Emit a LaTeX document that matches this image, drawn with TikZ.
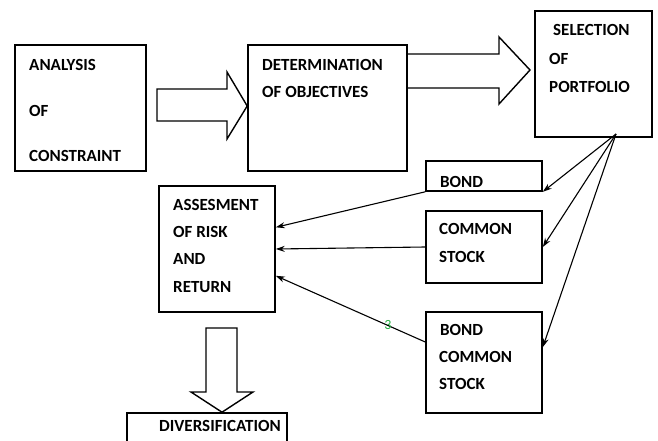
\documentclass[tikz,border=0pt]{standalone}
\usepackage{fontspec}
\setmainfont{Carlito}
\usepackage{tikz}
\usetikzlibrary{arrows.meta,positioning,calc}

\begin{document}
\begin{tikzpicture}[
		x=1pt,y=-1pt,
		font=\bfseries\fontsize{17}{20}\selectfont,
		stage/.style={draw,line width=1.6pt,inner sep=0pt},
		txt/.style={anchor=west,inner sep=0pt},
		flow/.style={-{Stealth[length=9pt,width=6pt]},line width=1.1pt},
		bigarrow/.style={draw,line width=1.4pt,line join=miter}]
		\useasboundingbox (0,0) rectangle (658,441);
		
		% Draw boxes
		\node[stage,minimum width=131pt,minimum height=126pt] (anal) at (80.5,108) {};
		\node[stage,minimum width=159pt,minimum height=126pt] (det) at (327.5,108) {};
		\node[stage,minimum width=117pt,minimum height=126pt] (sel) at (593.5,74) {};
		\node[stage,minimum width=116pt,minimum height=30pt] (bond) at (484,176) {};
		\node[stage,minimum width=116pt,minimum height=72pt] (cs) at (484,247) {};
		\node[stage,minimum width=116pt,minimum height=101pt] (bcs) at (484,362.5) {};
		\node[stage,minimum width=116pt,minimum height=126pt] (ass) at (217,249) {};
		\node[stage,minimum width=160pt,minimum height=42pt] (div) at (207,434) {};
		
		% Box texts
		\node[txt] (analA) at (29,65) {ANALYSIS};
		\node[txt] (analB) at (29,111) {OF};
		\node[txt] (analC) at (29,156) {CONSTRAINT};
		\node[txt] (detA) at (262,65) {DETERMINATION};
		\node[txt] (detB) at (262,92) {OF OBJECTIVES};
		\node[txt] (selA) at (553,30) {SELECTION};
		\node[txt] (selB) at (549,59) {OF};
		\node[txt] (selC) at (549,87) {PORTFOLIO};
		\node[txt] (bondA) at (440,182) {BOND};
		\node[txt] (csA) at (439,229) {COMMON};
		\node[txt] (csB) at (439,257) {STOCK};
		\node[txt] (bcsA) at (440,330) {BOND};
		\node[txt] (bcsB) at (439,357) {COMMON};
		\node[txt] (bcsC) at (439,384) {STOCK};
		\node[txt] (assA) at (173,205) {ASSESMENT};
		\node[txt] (assB) at (173,232) {OF RISK};
		\node[txt] (assC) at (173,259) {AND};
		\node[txt] (assD) at (173,287) {RETURN};
		\node[txt] (divA) at (159,426) {DIVERSIFICATION};
		
		% Block arrows
		\draw[bigarrow] (157,89) -- (227,89) -- (227,72) -- (det.west |- 0,106)
		-- (227,139) -- (227,121) -- (157,121) -- cycle;
		\draw[bigarrow] (det.east |- 0,54) -- (499,54) -- (499,37) -- (530,70)
		-- (499,104) -- (499,88) -- (det.east |- 0,88);
		\draw[bigarrow] (206,328) -- (237,328) -- (237,392) -- (253,392)
		-- (div.north -| 222,0) -- (191,392) -- (206,392) -- cycle;
		
		% Portfolio choices
		\coordinate (fan) at (616,134);
		\draw[flow] (fan) -- (bond.south east);
		\draw[flow] (fan) -- (cs.east);
		\draw[flow] (fan) -- ($(bcs.north east)!0.35!(bcs.south east)$);
		
		% Back to risk and return
		\draw[flow] (bond.south west) -- ($(ass.north east)!0.33!(ass.south east)$);
		\draw[flow] (cs.west) -- (ass.east);
		\draw[flow] ($(bcs.north west)!0.3!(bcs.south west)$)
		-- node[pos=0.25,inner sep=0pt,font=\fontsize{14}{16}\selectfont,
		text={rgb,255:red,40;green,175;blue,70}] (three) {3}
		($(ass.north east)!0.71!(ass.south east)$);
		
\end{tikzpicture}
\end{document}
